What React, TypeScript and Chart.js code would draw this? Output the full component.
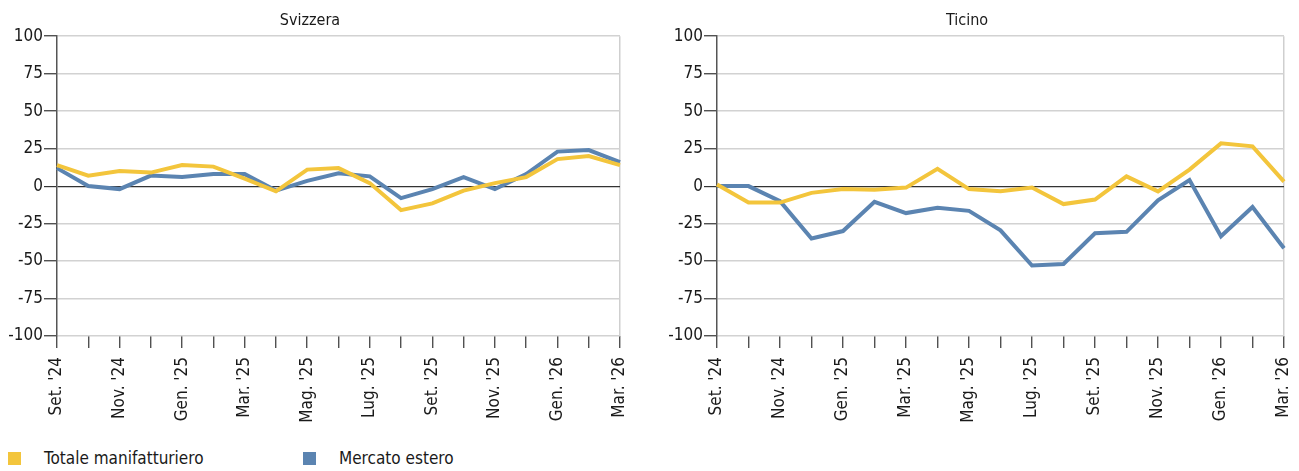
import React, { useEffect, useRef } from "react";
import { Chart, registerables } from "chart.js";

Chart.register(...registerables);

const months = [
  "Set. '24", "Ott. '24", "Nov. '24", "Dic. '24", "Gen. '25", "Feb. '25", "Mar. '25",
  "Apr. '25", "Mag. '25", "Giu. '25", "Lug. '25", "Ago. '25", "Set. '25", "Ott. '25",
  "Nov. '25", "Dic. '25", "Gen. '26", "Feb. '26", "Mar. '26",
];

const svizzeraTotale = [14, 7, 10, 9, 14, 13, 5, -3.5, 11, 12, 2, -16, -11.5, -3, 2, 6, 18, 20, 14];
const svizzeraEstero = [12, 0, -2, 7, 6, 8, 8, -3, 3.5, 8.5, 6.5, -8, -2, 6, -2, 8, 23, 24, 16];

const ticinoTotale = [1, -11, -11, -4.5, -2, -2.5, -1, 11.5, -2, -3.5, -1, -12, -9, 6.5, -3.5, 11, 28.5, 26.5, 3];
const ticinoEstero = [0, 0, -10, -35, -30, -10.5, -18, -14.5, -16.5, -29.5, -53, -52, -31.5, -30.5, -9.5, 4, -33.5, -14, -41.5];

const yTicks = [-100, -75, -50, -25, 0, 25, 50, 75, 100];

const seriesNames = ["Totale manifatturiero", "Mercato estero"];
const YELLOW = "#F3C53C";
const BLUE = "#5B84B1";
const FONT = "'Liberation Sans Narrow', 'DejaVu Sans Condensed', 'Arial Narrow', sans-serif";

type PanelProps = {
  title: string;
  totale: number[];
  estero: number[];
  left: number;
  width: number;
  axisWidth: number;
  padRight: number;
};

const CANVAS_H = 440;
const PLOT_BOTTOM = 336;

function Panel({ title, totale, estero, left, width, axisWidth, padRight }: PanelProps) {
  const ref = useRef<HTMLCanvasElement | null>(null);
  useEffect(() => {
    if (!ref.current) return;
    const chart = new Chart(ref.current, {
      type: "line",
      data: {
        labels: months,
        datasets: [
          {
            label: seriesNames[0],
            data: totale,
            borderColor: YELLOW,
            backgroundColor: YELLOW,
            borderWidth: 4,
            pointRadius: 0,
            tension: 0,
          },
          {
            label: seriesNames[1],
            data: estero,
            borderColor: BLUE,
            backgroundColor: BLUE,
            borderWidth: 4,
            pointRadius: 0,
            tension: 0,
          },
        ],
      },
      options: {
        animation: false,
        responsive: false,
        maintainAspectRatio: false,
        layout: { padding: { left: 0, right: padRight, top: 0, bottom: 0 } },
        plugins: {
          legend: { display: false },
          tooltip: { enabled: false },
          title: {
            display: true,
            text: title,
            color: "#1a1a1a",
            font: { family: FONT, size: 16, weight: "normal" },
            padding: { top: 11, bottom: 6 },
          },
        },
        scales: {
          x: {
            offset: false,
            border: { display: false },
            grid: {
              drawOnChartArea: true,
              drawTicks: true,
              tickLength: 12,
              tickColor: "#333",
              tickWidth: 1.2,
              color: (ctx: any) => (ctx.index === months.length - 1 ? "#cfcfcf" : "rgba(0,0,0,0)"),
              lineWidth: 1.5,
            },
            ticks: {
              autoSkip: false,
              maxRotation: 90,
              minRotation: 90,
              padding: 9,
              color: "#1a1a1a",
              font: { family: FONT, size: 17 },
              callback: (_v: any, i: number) => (i % 2 === 0 ? months[i] : ""),
            },
            afterFit: (s: any) => {
              s.height = CANVAS_H - PLOT_BOTTOM;
              s.paddingLeft = 0;
              s.paddingRight = 0;
            },
          },
          y: {
            min: -100,
            max: 100,
            border: { display: true, color: "#555", width: 1.5 },
            grid: {
              drawTicks: true,
              tickLength: 13,
              tickColor: "#333",
              tickWidth: 1.2,
              color: (ctx: any) => (ctx.tick && ctx.tick.value === 0 ? "#333" : "#d2d2d2"),
              lineWidth: (ctx: any) => (ctx.tick && ctx.tick.value === 0 ? 1.2 : 1.5),
            },
            afterBuildTicks: (s: any) => {
              s.ticks = yTicks.map((v) => ({ value: v }));
            },
            ticks: {
              padding: 1,
              color: "#1a1a1a",
              font: { family: FONT, size: 17 },
            },
            afterFit: (s: any) => {
              s.width = axisWidth;
            },
          },
        },
      },
    } as any);
    return () => chart.destroy();
  }, [title, totale, estero, axisWidth, padRight]);

  return (
    <canvas
      ref={ref}
      width={width}
      height={CANVAS_H}
      style={{ position: "absolute", left, top: 0, width, height: CANVAS_H }}
    />
  );
}

function LegendItem({ color, label, left, textLeft }: { color: string; label: string; left: number; textLeft: number }) {
  return (
    <>
      <div style={{ position: "absolute", left, top: 452, width: 13, height: 13, background: color }} />
      <div
        style={{
          position: "absolute",
          left: textLeft,
          top: 448,
          fontFamily: FONT,
          fontSize: 17,
          lineHeight: "21px",
          color: "#1a1a1a",
          whiteSpace: "nowrap",
        }}
      >
        {label}
      </div>
    </>
  );
}

export default function App() {
  return (
    <div style={{ position: "absolute", left: 0, top: 0, width: 1299, height: 471, background: "#fff", overflow: "hidden" }}>
      <Panel title="Svizzera" totale={svizzeraTotale} estero={svizzeraEstero} left={0} width={650} axisWidth={57} padRight={30} />
      <Panel title="Ticino" totale={ticinoTotale} estero={ticinoEstero} left={650} width={649} axisWidth={67} padRight={15} />
      <LegendItem color={YELLOW} label={seriesNames[0]} left={8} textLeft={44} />
      <LegendItem color={BLUE} label={seriesNames[1]} left={303} textLeft={339} />
    </div>
  );
}
